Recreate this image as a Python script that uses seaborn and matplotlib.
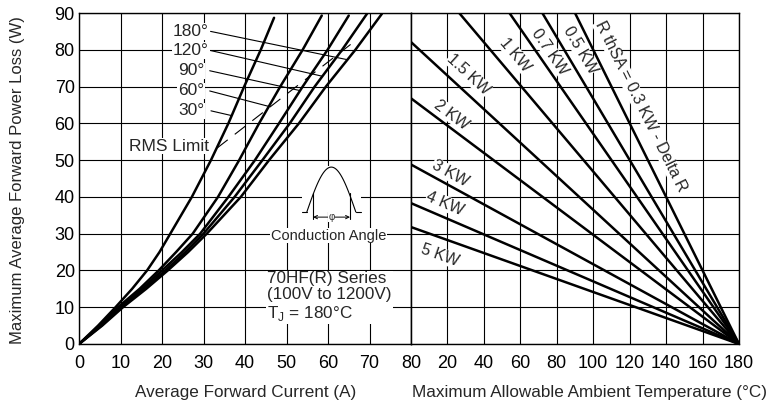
"""Power loss vs. average current and ambient temperature derating chart."""

import matplotlib

matplotlib.use("Agg")
import matplotlib.pyplot as plt
import numpy as np
import pandas as pd
import seaborn as sns
from matplotlib.patches import Rectangle

# left panel: one curve per conduction angle (current in A, power in W)
angles = ["30°", "60°", "90°", "120°", "180°"]
power_levels = [0, 5, 10, 15, 20, 25, 30, 40, 50, 60, 70, 80]
current_30 = [0, 4.6, 8.8, 12.8, 16.4, 19.4, 22.0, 27.2, 31.8, 36.0, 39.8, 43.8, 47.0]
power_30 = power_levels + [88.7]
current_60 = [0, 5.0, 9.4, 14.6, 19.2, 23.4, 27.4, 33.5, 38.6, 43.4, 48.5, 53.9, 58.5]
power_60 = power_levels + [89.3]
current_90 = [0, 5.2, 9.8, 15.2, 20.0, 24.8, 29.2, 36.0, 42.4, 48.2, 53.9, 59.9, 65.0]
power_90 = power_levels + [89.3]
current_120 = [0, 5.4, 10.2, 15.7, 20.8, 25.6, 30.0, 37.5, 44.2, 50.8, 56.8, 63.4, 69.4]
power_120 = power_levels + [89.8]
current_180 = [0, 5.6, 10.6, 16.2, 21.4, 26.3, 30.8, 39.0, 45.8, 53.0, 59.5, 66.6, 73.0]
power_180 = power_levels + [89.8]

# RMS limit dashed line
rms_current = [33.3, 65.5]
rms_power = [53.3, 81.5]

# right panel: heatsink thermal resistance lines, power at 0 °C falling to 0 W at 180 °C
rth_labels = ["5 KW", "4 KW", "3 KW", "2 KW", "1.5 KW", "1 KW", "0.7 KW", "0.5 KW",
              "R thSA = 0.3 KW - Delta R"]
power_at_0c = [31.8, 38.3, 48.8, 66.8, 82.1, 105.5, 128.6, 150.1, 180.0]
ambient_ends = [0, 180]

left_ticks = [0, 10, 20, 30, 40, 50, 60, 70, 80]
left_ticklabels = ["0", "10", "20", "30", "40", "50", "60", "70", ""]
right_ticks = [0, 20, 40, 60, 80, 100, 120, 140, 160, 180]
right_ticklabels = ["80", "20", "40", "60", "80", "100", "120", "140", "160", "180"]
power_ticks = [0, 10, 20, 30, 40, 50, 60, 70, 80, 90]

sns.set_style("white")
plt.rcParams["font.family"] = ["Liberation Sans", "DejaVu Sans"]
plt.rcParams["mathtext.fontset"] = "custom"
plt.rcParams["mathtext.rm"] = "Liberation Sans"

fig = plt.figure(figsize=(7.7, 4.04), dpi=100)
ax_l = fig.add_axes([79 / 770, 60 / 404, 332 / 770, 331 / 404])
ax_r = fig.add_axes([411 / 770, 60 / 404, 328 / 770, 331 / 404])

# left curves
currents = [current_30, current_60, current_90, current_120, current_180]
powers = [power_30, power_60, power_90, power_120, power_180]
rows = []
for angle, cur, pw in zip(angles, currents, powers):
    for c, p in zip(cur, pw):
        rows.append({"angle": angle, "current": c, "power": p})
curves = pd.DataFrame(rows)
sns.lineplot(data=curves, x="current", y="power", hue="angle", hue_order=angles,
             palette=["black"] * len(angles), estimator=None, sort=False,
             legend=False, lw=1.8, ax=ax_l, zorder=3)
ax_l.plot(rms_current, rms_power, color="black", lw=0.8, dashes=(12, 8), zorder=3)

# right lines
rows = []
for label, p0 in zip(rth_labels, power_at_0c):
    rows.append({"rth": label, "ambient": ambient_ends[0], "power": p0})
    rows.append({"rth": label, "ambient": ambient_ends[1], "power": 0})
lines = pd.DataFrame(rows)
sns.lineplot(data=lines, x="ambient", y="power", hue="rth", hue_order=rth_labels,
             palette=["black"] * len(rth_labels), estimator=None, sort=False,
             legend=False, lw=1.8, ax=ax_r, zorder=3)

for ax in (ax_l, ax_r):
    ax.set_axisbelow(True)
    ax.grid(True, color="black", lw=0.8)
    ax.set_ylim(0, 90)
    ax.set_yticks(power_ticks)
    ax.tick_params(length=0, labelsize=13, colors="black")
    ax.tick_params(axis="x", pad=8)
    ax.tick_params(axis="y", pad=3)
    for spine in ax.spines.values():
        spine.set_color("black")
        spine.set_linewidth(1.0)
    ax.set_xlabel("")
    ax.set_ylabel("")

ax_l.set_xlim(0, 80)
ax_l.set_xticks(left_ticks)
ax_l.set_xticklabels(left_ticklabels)
ax_r.set_xlim(0, 180)
ax_r.set_xticks(right_ticks)
ax_r.set_xticklabels(right_ticklabels)
ax_r.set_yticklabels([])

box = dict(facecolor="white", edgecolor="none", pad=0.5)
text_w = [63.4, 68.8, 74.3, 79.8, 85.0]
leader_start_a = [31.8, 31.5, 31.5, 31.7, 31.7]
leader_w = [62.1, 64.6, 68.9, 72.8, 77.3]
for angle, cur, pw, tw, sa, lw_ in zip(angles, currents, powers, text_w, leader_start_a, leader_w):
    ax_l.text(27.0, tw, angle, ha="center", va="center", fontsize=12.5, bbox=box, zorder=2.5)
    end_a = np.interp(lw_, pw, cur)
    ax_l.annotate("", xy=(end_a, lw_), xytext=(sa, tw),
                  arrowprops=dict(arrowstyle="-", lw=0.8, color="black",
                                  shrinkA=0, shrinkB=0), zorder=3)
ax_l.text(21.6, 53.8, "RMS Limit", ha="center", va="center", fontsize=12.5, bbox=box,
          zorder=2.5)

# conduction angle icon
ax_l.add_patch(Rectangle((53.8, 35.9), 14.2, 12.6, facecolor="white", edgecolor="none", zorder=1))
wave_a = np.linspace(54.9, 66.7, 80)
wave_w = 35.9 + 12.2 * np.sin(np.pi * (wave_a - 54.9) / 11.8)
ax_l.plot(wave_a, wave_w, color="black", lw=0.8, zorder=3)
ax_l.plot([53.8, 54.9], [35.9, 35.9], color="black", lw=0.8, zorder=3)
ax_l.plot([66.7, 68.0], [35.9, 35.9], color="black", lw=0.8, zorder=3)
for xa in (56.4, 65.3):
    ax_l.plot([xa, xa], [34.0, 41.0], color="black", lw=0.8, zorder=3)
ax_l.annotate("", xy=(56.4, 34.5), xytext=(65.3, 34.5),
              arrowprops=dict(arrowstyle="<->", lw=0.7, color="black",
                              shrinkA=0, shrinkB=0, mutation_scale=6), zorder=3)
ax_l.text(60.85, 34.6, "φ", ha="center", va="center", fontsize=7,
          bbox=dict(facecolor="white", edgecolor="none", pad=0.3), zorder=3.5)
ax_l.text(60.2, 29.5, "Conduction Angle", ha="center", va="center", fontsize=10.5,
          bbox=box, zorder=2.5)
ax_l.text(45.4, 12.8, "70HF(R) Series\n(100V to 1200V)\nT$_\\mathregular{J}$ = 180°C",
          ha="left", va="center", fontsize=12.3, linespacing=1.12,
          bbox=dict(facecolor="white", edgecolor="none", pad=1), zorder=2.5)

label_t = [15.9, 18.7, 21.4, 22.3, 31.5, 57.1, 76.3, 92.8, 126.0]
label_w = [24.1, 38.2, 46.4, 62.3, 73.2, 78.6, 79.5, 80.0, 64.6]
for label, p0, lt, lw_ in zip(rth_labels, power_at_0c, label_t, label_w):
    (x0, y0), (x1, y1) = ax_r.transData.transform([(0, p0), (180, 0)])
    rot = np.degrees(np.arctan2(y1 - y0, x1 - x0))
    ax_r.text(lt, lw_, label, ha="center", va="center", rotation=rot,
              rotation_mode="anchor", fontsize=11.5,
              bbox=dict(facecolor="white", edgecolor="none", pad=0.2), zorder=2.5)

fig.text(246 / 770, 1 - 393 / 404, "Average Forward Current (A)", ha="center", va="center",
         fontsize=12.3)
fig.text(590 / 770, 1 - 393 / 404, "Maximum Allowable Ambient Temperature (°C)", ha="center",
         va="center", fontsize=12.3)
fig.text(18 / 770, 1 - 180 / 404, "Maximum Average Forward Power Loss (W)", ha="center",
         va="center", rotation=90, fontsize=12)

fig.savefig("out.png", dpi=100)
plt.close(fig)
